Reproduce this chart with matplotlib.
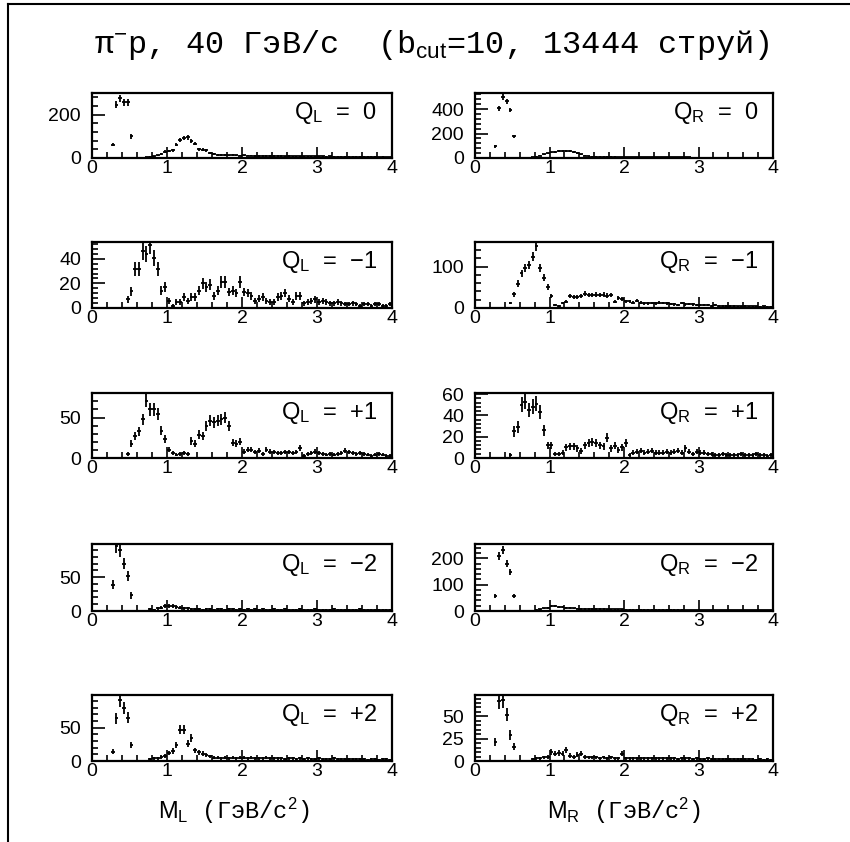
import matplotlib

matplotlib.use("Agg")

import matplotlib.pyplot as plt
import numpy as np
from matplotlib.lines import Line2D
from matplotlib.ticker import MultipleLocator

plt.rcParams["font.family"] = ["Liberation Sans", "DejaVu Sans"]
plt.rcParams["mathtext.fontset"] = "custom"
plt.rcParams["mathtext.rm"] = "Liberation Sans"
plt.rcParams["mathtext.it"] = "Liberation Sans:italic"
plt.rcParams["mathtext.bf"] = "Liberation Sans:bold"

# 80 bins of 0.05 GeV/c^2 from 0 to 4
BIN_WIDTH = 0.05
bin_centers = np.arange(80) * BIN_WIDTH + BIN_WIDTH / 2

QL_0 = [0] * 5 + [62, 246, 277, 257, 257, 100, 0, 0, 0, 3,
                  5, 8, 12, 20, 30, 32, 35, 62, 85, 92,
                  95, 80, 66, 40, 38, 35, 22, 18, 15, 14,
                  14, 12, 13, 12, 11, 12, 11, 11, 10, 10,
                  10, 9, 10, 9, 9, 9, 8, 9, 8, 8,
                  8, 7, 8, 7, 7, 7, 7, 6, 7, 6,
                  6, 6, 6, 5, 6, 5, 5, 6, 5, 5,
                  5, 4, 5, 4, 4]
QR_0 = [0] * 5 + [95, 405, 500, 462, 392, 176, 0, 0, 0, 0,
                  5, 10, 20, 30, 38, 45, 50, 55, 58, 60,
                  58, 52, 42, 30, 20, 15, 12, 12, 11, 11,
                  10, 10, 10, 9, 9, 8, 8, 8, 7, 7,
                  7, 7, 6, 6, 6, 6, 6, 5, 5, 5,
                  5, 5, 5, 4, 4, 4, 4, 4, 4, 4,
                  4, 3, 3, 3, 3, 3, 3, 3, 3, 3,
                  3, 2, 2, 2, 2]
QL_M1 = [0] * 9 + [7, 13.5, 32, 32, 46, 44, 51, 40.5, 32, 14, 17,
                   6, 2, 5, 5, 9, 6, 9, 9, 14, 20,
                   17, 19, 10, 14, 21, 21, 13, 14, 12, 21,
                   13, 12, 10, 6, 7.5, 9, 6, 5, 5, 9,
                   10, 12, 7.5, 5, 10, 10,
                   4, 5, 6, 7, 5, 6, 5, 4, 4, 5, 4, 3,
                   3, 4, 3, 2, 3, 3, 2, 3, 3, 2, 2, 3]
QR_M1 = [0] * 9 + [12, 33, 59, 84, 96, 104, 124, 149, 96, 73, 51,
                   29, 8, 6, 12, 15, 29, 27, 27, 29, 35,
                   31, 31, 32, 31, 32, 30, 31, 15, 24, 21,
                   16, 16, 13, 18, 13, 11, 11, 12, 11, 13,
                   12, 11, 10, 9, 8, 12, 9, 10, 9,
                   8, 8, 7, 7, 6, 7, 6, 5, 5, 6, 5,
                   4, 4, 5, 4, 4, 4, 3, 4, 3, 3]
QL_P1 = [0] * 9 + [5, 17.5, 27, 33, 48, 71, 60, 60, 54, 34, 24,
                   10, 6, 4, 5, 6, 5, 21, 17.5, 29, 27,
                   40, 46, 44, 46, 48, 50, 40, 19, 17.5, 20,
                   8, 10, 10, 7.5, 9, 5, 10, 8,
                   7, 6, 6, 7, 7, 6, 7, 12,
                   3, 5, 6, 8, 6, 5, 4, 5, 4, 5, 6, 9,
                   7, 6, 5, 6, 5, 4, 3, 4, 5, 4, 3, 3]
QR_P1 = [0] * 9 + [3, 25, 29, 50, 53, 45, 48, 51, 43, 26, 12,
                   12, 3.5, 3.5, 5, 10, 11, 11, 9, 6.5, 12,
                   14, 15, 14.5, 12, 11, 19, 9, 11.5, 7.5, 10,
                   14.5, 3,
                   5, 6, 7, 5, 6, 7, 5, 5, 5, 6,
                   5, 6, 7, 5, 9, 6, 4, 6, 5, 5,
                   4, 4, 3, 3, 4, 3, 3, 3, 3, 4,
                   3, 3, 3, 4, 3, 3, 2, 3]
QL_M2 = [0] * 5 + [39, 96, 90, 70, 52, 23, 0, 0, 0, 0,
                   3, 2, 4, 5, 8, 7, 8, 6, 5, 4, 4, 3,
                   3, 3, 2, 3, 3, 2, 3, 3, 2, 3,
                   3, 2, 3, 2, 3, 2, 3, 2, 3, 2,
                   2, 3, 2, 2, 3, 2, 2, 2, 3, 2,
                   2, 2, 3, 2, 2, 2, 2, 3, 2, 2,
                   2, 2, 2, 2, 3, 2, 2, 2, 2, 2,
                   2, 2, 2]
QR_M2 = [0] * 5 + [58, 208, 231, 180, 147, 58, 0, 0, 0, 0, 0,
                   4, 6, 10, 13, 20, 18, 15, 14, 12, 11, 10, 9,
                   8, 8, 8, 7, 7, 7, 7, 6, 6, 6,
                   6, 6, 5, 5, 5, 5, 5, 5, 5, 4,
                   4, 4, 4, 4, 4, 4, 4, 4, 3, 3,
                   3, 3, 3, 3, 3, 3, 3, 3, 3, 3,
                   3, 2, 2, 3, 2, 2, 2, 2, 2, 2,
                   2, 2]
QL_P2 = [0] * 5 + [14, 64, 91, 79, 65, 24, 0, 0, 0, 0,
                   3, 4, 4, 6, 8,
                   12, 15, 24, 47, 47, 26, 35, 16, 13, 11,
                   9, 7, 5, 5, 4, 5, 4, 5, 4, 5,
                   5, 4, 5, 4, 4, 4, 5, 4, 4, 4,
                   4, 3, 4, 4, 3, 4, 3, 4, 3, 3,
                   4, 3, 3, 3, 4, 3, 3, 3, 3, 3,
                   3, 3, 3, 2, 3, 3, 2, 3, 3, 2]
QR_P2 = [0] * 5 + [21.6, 67, 68, 52, 29, 16, 0, 0, 0, 0,
                   2, 3, 3, 4, 5,
                   10, 8, 9, 8, 12, 6, 5, 7, 8, 5, 4,
                   4, 4, 3, 4, 3, 4, 3, 3, 8, 3,
                   3, 3, 3, 3, 3, 3, 3, 3, 3, 3,
                   3, 3, 3, 2, 3, 3, 3, 2, 3, 2,
                   2, 3, 2, 2, 2, 2, 2, 2, 2, 2,
                   2, 2, 2, 2, 1.5, 2, 1.5, 2, 1.5]

# row, column, counts, label, y max, major step, minor step
panels = [
    (0, 0, QL_0, "Q$_\\mathrm{L}$  =  0", 303, 200, 40),
    (0, 1, QR_0, "Q$_\\mathrm{R}$  =  0", 535, 200, 40),
    (1, 0, QL_M1, "Q$_\\mathrm{L}$  =  \u22121", 54, 20, 4),
    (1, 1, QR_M1, "Q$_\\mathrm{R}$  =  \u22121", 161, 100, 20),
    (2, 0, QL_P1, "Q$_\\mathrm{L}$  =  +1", 81, 50, 10),
    (2, 1, QR_P1, "Q$_\\mathrm{R}$  =  +1", 61.5, 20, 4),
    (3, 0, QL_M2, "Q$_\\mathrm{L}$  =  \u22122", 99, 50, 10),
    (3, 1, QR_M2, "Q$_\\mathrm{R}$  =  \u22122", 254, 100, 20),
    (4, 0, QL_P2, "Q$_\\mathrm{L}$  =  +2", 99, 50, 10),
    (4, 1, QR_P2, "Q$_\\mathrm{R}$  =  +2", 74, 25, 5),
]

W, H = 850, 842
col_x = [(92, 300), (475, 298)]
row_y = [(92.5, 158), (241.5, 308), (392.5, 458), (544, 611), (695, 761)]
label_x = [0.473, 0.5]
MONO = ["Liberation Mono", "DejaVu Sans Mono"]

fig = plt.figure(figsize=(W / 100, H / 100), dpi=100)
fig.patch.set_facecolor("white")

for row, col, counts, label, ymax, major, minor in panels:
    x0, w = col_x[col]
    top, bottom = row_y[row]
    ax = fig.add_axes([x0 / W, 1 - bottom / H, w / W, (bottom - top) / H])
    values = np.array(counts, dtype=float)
    mask = values > 0
    ax.errorbar(bin_centers[mask], values[mask], xerr=BIN_WIDTH / 2,
                yerr=np.sqrt(values[mask]), fmt="none", ecolor="black",
                elinewidth=1.3, capsize=0)
    ax.set_xlim(0, 4)
    ax.set_ylim(0, ymax)
    ax.xaxis.set_major_locator(MultipleLocator(1))
    ax.xaxis.set_minor_locator(MultipleLocator(0.2))
    ax.yaxis.set_major_locator(MultipleLocator(major))
    ax.yaxis.set_minor_locator(MultipleLocator(minor))
    ax.tick_params(axis="x", which="major", direction="in", length=8,
                   width=1.2, labelsize=14, pad=1.5)
    ax.tick_params(axis="x", which="minor", direction="in", length=4.5, width=1.2)
    ax.tick_params(axis="y", which="major", direction="in", length=9.5,
                   width=1.2, labelsize=14, pad=8)
    ax.tick_params(axis="y", which="minor", direction="in", length=4.5, width=1.2)
    for spine in ax.spines.values():
        spine.set_linewidth(1.6)
    ax.text(0.95, 0.69, label, transform=ax.transAxes, ha="right",
            va="center", fontsize=17)
    if row == 4:
        sub = "L" if col == 0 else "R"
        ax.set_xlabel("$\\mathrm{M}_\\mathrm{%s}$ (ГэВ/c$^2$)" % sub,
                      family=MONO, fontsize=17)
        ax.xaxis.set_label_coords(label_x[col], -0.52)

fig.text(432 / W, 1 - 45 / H,
         "π$^{-}$p, 40 ГэВ/c  (b$_{\\mathrm{cut}}$=10, 13444 струй)",
         ha="center", va="center", fontsize=23, family=MONO)

# page frame
fig.add_artist(Line2D([8 / W, 8 / W], [0, 1 - 4 / H], transform=fig.transFigure,
                      color="black", linewidth=1.5))
fig.add_artist(Line2D([8 / W, 1], [1 - 4 / H, 1 - 4 / H], transform=fig.transFigure,
                      color="black", linewidth=1.5))

fig.savefig("out.png", dpi=100)
